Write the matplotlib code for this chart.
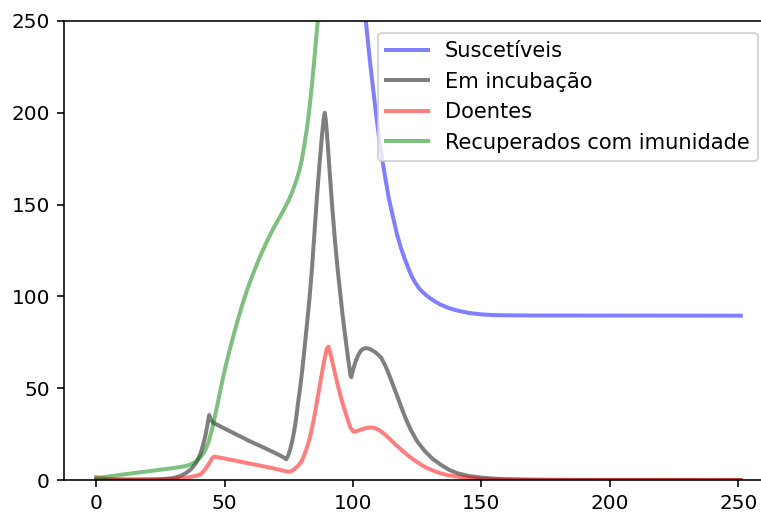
import numpy as np
import matplotlib
matplotlib.use('Agg')
import matplotlib.pyplot as plt

# Suscetíveis (dia, valor)
t_s = [0, 30, 45, 60, 75, 82, 88, 95, 100, 105, 106, 107, 108, 109, 110, 111.5,
       113, 114, 115.4, 117, 118.7, 120, 121.5, 122.6, 124, 125.5, 127, 128.4,
       130, 132, 134, 137, 140, 145, 150, 155, 160, 170, 251]
S = [999, 990, 950, 870, 815, 720, 520, 380, 318, 250, 236, 223, 211, 199, 188, 173.4,
     161, 153, 144.3, 134.5, 126.2, 121, 115.5, 111.7, 108, 104.8, 102.5, 100.8,
     99, 97.2, 95.6, 93.8, 92.5, 91, 90.2, 89.8, 89.7, 89.6, 89.5]

# Em incubação
t_e = [0, 15, 25, 30, 33, 35, 37, 39, 40.5, 41.5, 42.5, 43.3, 44, 44.6, 45.6,
       50, 55, 60, 65, 70, 73, 74, 74.8, 75.6, 76.3, 77, 77.8, 78.5, 79.3, 80,
       81, 82, 83, 84, 85, 86, 87, 88, 88.6, 89, 89.4, 90, 91, 92, 93, 94, 95,
       96, 97, 98, 99, 99.3, 100, 101, 102, 103, 104, 105, 106, 107, 108.5, 110,
       111, 112.5, 114, 115.5, 117, 118.7, 120.5, 122.6, 125, 127.8, 131, 134.3,
       137.5, 140.8, 145, 150, 155, 160, 170, 185, 251]
E = [0, 0.05, 0.3, 1, 2.3, 3.8, 6, 9.5, 14, 18.5, 24, 30, 35.4, 33, 31.2,
     28, 24.5, 21, 17.8, 14.5, 12.3, 11.3, 13.5, 17, 21, 26, 33, 41, 49, 57,
     70, 84, 98, 115, 135, 155, 173, 189, 197, 200, 196, 186, 166, 147, 130, 115, 102,
     89, 78, 67, 57, 56, 60, 64.5, 68, 70.3, 71.5, 71.8, 71.6, 71, 69.8, 68,
     66.5, 62.5, 57.5, 52, 46.5, 40, 33.5, 27, 21, 16, 11.5, 8.2,
     5.5, 3.6, 2.2, 1.3, 0.7, 0.4, 0.15, 0.03, 0]

# Doentes
t_i = [0, 2, 5, 10, 20, 28, 32, 35, 37, 39, 40.5, 41.5, 42.5, 43.5, 44.5, 45.3,
       45.9, 47, 50, 55, 60, 65, 70, 73, 75, 76, 77, 78, 79, 80, 81, 82, 83, 84,
       85, 86, 87, 88, 89, 89.8, 90.4, 91, 92, 93, 94, 95, 96, 97, 98, 99, 100,
       100.5, 101.5, 103, 105, 107, 108.5, 110, 112, 114, 116, 118, 120, 122,
       124, 126, 128, 131, 134, 137, 140.8, 145, 150, 155, 160, 175, 251]
I = [1.5, 1, 0.6, 0.4, 0.3, 0.5, 0.8, 1.2, 1.7, 2.3, 3, 4.3, 6, 8, 10.3, 12,
     12.7, 12.5, 11.7, 10.3, 8.9, 7.5, 6, 5, 4.5, 4.8, 5.7, 7, 8.3, 10.3, 13.5, 17.5, 22, 28,
     35, 43, 51, 59, 66.5, 71.5, 72.6, 70, 64, 58, 52, 46.5, 41.5, 37, 32.5, 28.5, 26.5,
     26.3, 26.6, 27.4, 28.3, 28.6, 28.3, 27.3, 25.3, 22.8, 20, 17.5, 15, 12.7,
     10.7, 8.8, 7.1, 5.2, 3.7, 2.6, 1.8, 1.1, 0.6, 0.35, 0.2, 0.05, 0]

# Recuperados com imunidade
t_r = [0, 10, 20, 30, 35, 37, 38.5, 40, 41.5, 42.7, 43.7, 44.6, 45.5, 46.5, 47.5,
       48.5, 49.5, 50.5, 52, 53.5, 55, 57, 59, 61, 63, 65, 67, 69, 71, 73, 75,
       76.5, 78, 79, 80, 81, 82, 83, 84, 85, 86, 86.3, 87, 88, 90, 95, 100, 110,
       120, 135, 150, 251]
R = [1, 2.9, 4.7, 6.5, 7.6, 8.6, 9.8, 11.5, 14, 17, 20.5, 25, 30, 36.5, 43,
     50, 56.5, 62.5, 71, 79, 86.5, 96, 104.5, 112, 119, 125.5, 131.5, 137, 142, 147, 152.5,
     157.5, 163.5, 168, 174, 182, 191, 202, 215, 230, 246, 250, 259, 272, 300, 390, 500, 680,
     800, 880, 905, 910]

fig = plt.figure(figsize=(761 / 144, 512 / 144), dpi=144)
ax = fig.add_axes([64 / 761, 32 / 512, 709 / 761, 459 / 512])

ax.plot(t_s, S, 'b', alpha=0.5, lw=2, label='Suscetíveis')
ax.plot(t_e, E, 'k', alpha=0.5, lw=2, label='Em incubação')
ax.plot(t_i, I, 'r', alpha=0.5, lw=2, label='Doentes')
ax.plot(t_r, R, 'g', alpha=0.5, lw=2, label='Recuperados com imunidade')

ax.set_ylim(0, 250)

ax.legend(loc='upper right', bbox_to_anchor=(758 / 761, (512 - 32.7) / 512),
          bbox_transform=fig.transFigure, borderaxespad=0, fontsize=10.5)

fig.savefig('out.png', dpi=144)
